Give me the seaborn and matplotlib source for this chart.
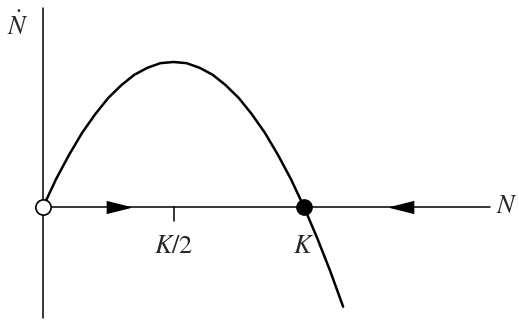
import numpy as np
import pandas as pd
import matplotlib
matplotlib.use("Agg")
import matplotlib.pyplot as plt
import seaborn as sns

# population N (in units of K) and growth rate dN/dt
n_values = [0, 0.05, 0.1, 0.15, 0.2, 0.25, 0.3, 0.35, 0.4, 0.45, 0.5, 0.55,
            0.6, 0.65, 0.7, 0.75, 0.8, 0.85, 0.9, 0.95, 1.0, 1.05, 1.1, 1.15]
ndot_values = [0, 0.048, 0.09, 0.128, 0.16, 0.188, 0.21, 0.228, 0.24, 0.248,
               0.25, 0.248, 0.24, 0.228, 0.21, 0.188, 0.16, 0.128, 0.09,
               0.048, 0, -0.053, -0.11, -0.172]

# fixed points and flow arrows on the N axis
unstable_fp = [0.0]
stable_fp = [1.0]
arrow_right = [0.287]
arrow_left = [1.376]
tick_labels = {"$K/2$": 0.5, "$K$": 1.0}

df = pd.DataFrame({"N": n_values, "Ndot": ndot_values})

sns.set_style("white")
plt.rcParams["mathtext.fontset"] = "stix"
plt.rcParams["font.family"] = ["Liberation Serif", "DejaVu Serif"]

fig = plt.figure(figsize=(5.19, 3.21), dpi=100)
ax = fig.add_axes([0, 0, 1, 1])
ax.set_xlim(-0.1648, 1.8238)
ax.set_ylim(-0.1966, 0.3569)
ax.axis("off")

# axes drawn by hand
ax.plot([0, 1.713], [0, 0], color="black", lw=1.1, zorder=1)
ax.plot([0, 0], [-0.191, 0.343], color="black", lw=1.1, zorder=1)

# the logistic curve
sns.lineplot(data=df, x="N", y="Ndot", color="black", lw=1.8, sort=False,
             ax=ax, zorder=2)

# tick at K/2
ax.plot([0.5, 0.5], [0, -0.024], color="black", lw=1.1)

# flow arrows
tri_right = [(-1, -0.5), (1, 0), (-1, 0.5)]
tri_left = [(1, -0.5), (-1, 0), (1, 0.5)]
ax.plot(arrow_right, [0], marker=tri_right, ms=17, color="black", ls="none")
ax.plot(arrow_left, [0], marker=tri_left, ms=17, color="black", ls="none")

# fixed points
ax.plot(unstable_fp, [0], marker="o", ms=11, mfc="white", mec="black",
        mew=1.2, ls="none", zorder=4)
ax.plot(stable_fp, [0], marker="o", ms=11, color="black", ls="none", zorder=4)

# labels
for lab, x in tick_labels.items():
    ax.text(x, -0.069, lab, ha="center", va="center", fontsize=19)
ax.text(1.735, 0.0, "$N$", ha="left", va="center", fontsize=19)
ax.text(-0.095, 0.313, r"$\dot{N}$", ha="center", va="center", fontsize=19)

fig.savefig("out.png", dpi=100)
